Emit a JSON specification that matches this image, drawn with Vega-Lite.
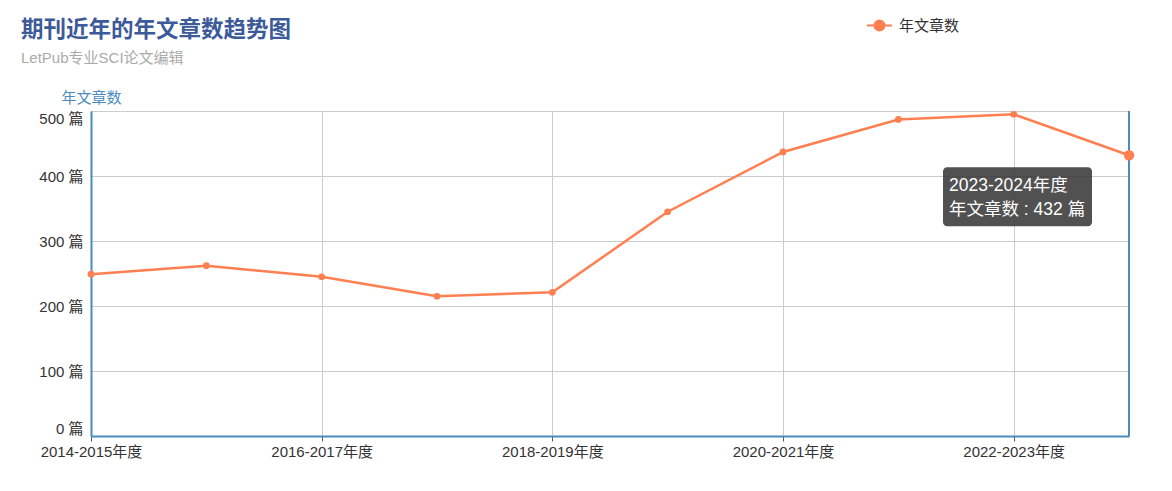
{
  "$schema": "https://vega.github.io/schema/vega-lite/v6.json",
  "width": 1038,
  "height": 325,
  "autosize": "none",
  "padding": {"left": 91, "top": 111, "right": 43, "bottom": 55},
  "background": "white",
  "config": {
    "font": "Liberation Sans, Noto Sans CJK SC, sans-serif",
    "view": {"stroke": null}
  },
  "title": {
    "text": "期刊近年的年文章数趋势图",
    "subtitle": "LetPub专业SCI论文编辑",
    "anchor": "start",
    "frame": "group",
    "dx": -70,
    "dy": 64,
    "offset": 10,
    "fontSize": 22.5,
    "fontWeight": "bold",
    "color": "#3c5a99",
    "subtitleFontSize": 15,
    "subtitleColor": "#aaaaaa",
    "subtitlePadding": 10
  },
  "data": {
    "values": [
      {"year": "2014-2015年度", "count": 249},
      {"year": "2015-2016年度", "count": 262},
      {"year": "2016-2017年度", "count": 245},
      {"year": "2017-2018年度", "count": 215},
      {"year": "2018-2019年度", "count": 221},
      {"year": "2019-2020年度", "count": 345},
      {"year": "2020-2021年度", "count": 437},
      {"year": "2021-2022年度", "count": 487},
      {"year": "2022-2023年度", "count": 495},
      {"year": "2023-2024年度", "count": 432}
    ]
  },
  "encoding": {
    "x": {
      "field": "year",
      "type": "ordinal",
      "scale": {"type": "point", "padding": 0},
      "axis": {
        "values": ["2014-2015年度", "2016-2017年度", "2018-2019年度", "2020-2021年度", "2022-2023年度"],
        "title": null,
        "labelAngle": 0,
        "labelFontSize": 15,
        "labelColor": "#333333",
        "labelPadding": 3,
        "domainColor": "#4b8bbe",
        "domainWidth": 2,
        "tickColor": "#555555",
        "tickSize": 5,
        "grid": true,
        "gridColor": "#cccccc"
      }
    },
    "y": {
      "field": "count",
      "type": "quantitative",
      "scale": {"domain": [0, 500], "nice": false},
      "axis": {
        "values": [0, 100, 200, 300, 400, 500],
        "title": "年文章数",
        "titleAngle": 0,
        "titleX": 0,
        "titleY": -14,
        "titleAlign": "center",
        "titleBaseline": "middle",
        "titleColor": "#4b8bbe",
        "titleFontSize": 15,
        "titleFontWeight": "normal",
        "labelExpr": "datum.value + ' 篇'",
        "labelFlush": true,
        "labelFontSize": 15,
        "labelColor": "#333333",
        "labelPadding": 8,
        "ticks": false,
        "domainColor": "#4b8bbe",
        "domainWidth": 2,
        "grid": true,
        "gridColor": "#cccccc"
      }
    }
  },
  "layer": [
    {
      "transform": [{"filter": "datum.year == '2023-2024年度'"}],
      "mark": {"type": "rule", "color": "#4b8bbe", "strokeWidth": 2},
      "encoding": {
        "y": {"datum": 0},
        "y2": {"datum": 500}
      }
    },
    {
      "mark": {"type": "line", "strokeWidth": 2.5},
      "encoding": {
        "stroke": {
          "datum": "年文章数",
          "scale": {"range": ["#ff7f50"]},
          "legend": {
            "orient": "none",
            "legendX": 775,
            "legendY": -99,
            "title": null,
            "symbolType": "M-1,0L-0.4,0M0.4,0L1,0M-0.4,0A0.4,0.4,0,1,1,0.4,0A0.4,0.4,0,1,1,-0.4,0",
            "symbolSize": 625,
            "symbolStrokeWidth": 2,
            "symbolFillColor": "#ff7f50",
            "symbolStrokeColor": "#ff7f50",
            "labelFontSize": 15,
            "labelColor": "#333333",
            "labelOffset": 6
          }
        }
      }
    },
    {
      "transform": [{"filter": "datum.year != '2023-2024年度'"}],
      "mark": {"type": "point", "filled": true, "size": 45, "color": "#ff7f50", "opacity": 1}
    },
    {
      "transform": [{"filter": "datum.year == '2023-2024年度'"}],
      "mark": {"type": "point", "filled": true, "size": 110, "color": "#ff7f50", "opacity": 1}
    },
    {
      "transform": [{"filter": "datum.year == '2023-2024年度'"}],
      "mark": {"type": "rect", "fill": "#333333", "opacity": 0.85, "cornerRadius": 4, "xOffset": -186, "x2Offset": -37, "yOffset": 12, "y2Offset": 71},
      "encoding": {
        "x2": {"field": "year"},
        "y2": {"field": "count"}
      }
    },
    {
      "transform": [{"filter": "datum.year == '2023-2024年度'"}],
      "mark": {"type": "text", "align": "left", "baseline": "middle", "dx": -180, "dy": 31, "fontSize": 17.5, "color": "#ffffff"},
      "encoding": {"text": {"field": "year"}}
    },
    {
      "transform": [
        {"filter": "datum.year == '2023-2024年度'"},
        {"calculate": "'年文章数 : ' + datum.count + ' 篇'", "as": "tip"}
      ],
      "mark": {"type": "text", "align": "left", "baseline": "middle", "dx": -180, "dy": 55, "fontSize": 17.5, "color": "#ffffff"},
      "encoding": {"text": {"field": "tip"}}
    }
  ]
}
